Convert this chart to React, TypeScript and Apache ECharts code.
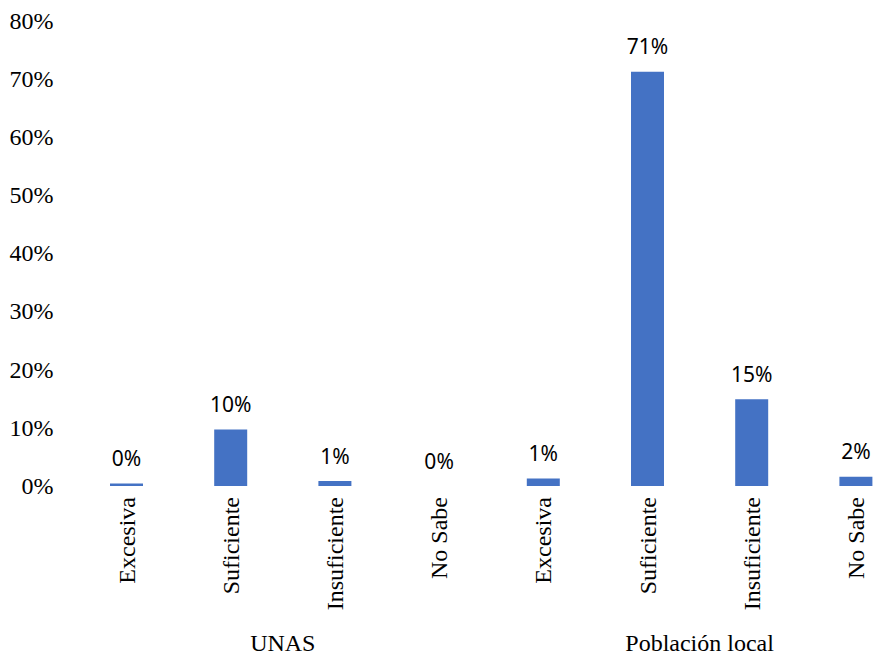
import React, { useEffect, useRef } from "react";
import * as echarts from "echarts";

// Response categories, repeated for each surveyed group
const categories = [
  "Excesiva", "Suficiente", "Insuficiente", "No Sabe",
  "Excesiva", "Suficiente", "Insuficiente", "No Sabe",
];
const groups = ["UNAS", "Población local"];
// Share of respondents (%) per category: UNAS first, then Población local
const unasValues = [0.45, 9.7, 0.85, 0];
const localValues = [1.3, 71.2, 14.9, 1.6];
const values = [...unasValues, ...localValues];

const SERIF = "'Liberation Serif', 'Times New Roman', serif";
const SANS = "'Noto Sans', 'Open Sans', sans-serif";

export default function App() {
  const ref = useRef<HTMLDivElement>(null);

  useEffect(() => {
    if (!ref.current) return;
    const chart = echarts.init(ref.current, null, { renderer: "svg" });
    chart.setOption({
      animation: false,
      backgroundColor: "#ffffff",
      // the plot runs a little past the right edge of the visible frame
      grid: { left: 74.4, right: 0, top: 20.5, bottom: 171 },
      xAxis: [
        {
          type: "category",
          data: categories,
          axisLine: { show: false },
          axisTick: { show: false },
          axisLabel: {
            rotate: 90,
            margin: 11,
            fontFamily: SERIF,
            fontSize: 24,
            color: "#000",
            interval: 0,
          },
        },
        {
          type: "category",
          data: groups,
          position: "bottom",
          offset: 145,
          axisLine: { show: false },
          axisTick: { show: false },
          axisLabel: {
            margin: 0,
            fontFamily: SERIF,
            fontSize: 24,
            color: "#000",
            interval: 0,
          },
        },
      ],
      yAxis: {
        type: "value",
        min: 0,
        max: 80,
        interval: 10,
        axisLine: { show: false },
        axisTick: { show: false },
        splitLine: { show: false },
        axisLabel: {
          formatter: "{value}%",
          margin: 21,
          fontFamily: SERIF,
          fontSize: 24,
          color: "#000",
        },
      },
      series: [
        {
          type: "bar",
          xAxisIndex: 0,
          data: values,
          barWidth: 33,
          itemStyle: { color: "#4472C4" },
          label: {
            show: true,
            position: "top",
            distance: 15,
            fontFamily: SANS,
            fontSize: 21,
            color: "#000",
            formatter: (p: any) => `${Math.round(p.value)}%`,
          },
        },
      ],
    });
    return () => chart.dispose();
  }, []);

  return (
    <div
      style={{
        position: "absolute",
        left: 0,
        top: 0,
        width: 873,
        height: 657,
        overflow: "hidden",
        background: "#fff",
      }}
    >
      <div ref={ref} style={{ width: 908, height: 657 }} />
    </div>
  );
}
